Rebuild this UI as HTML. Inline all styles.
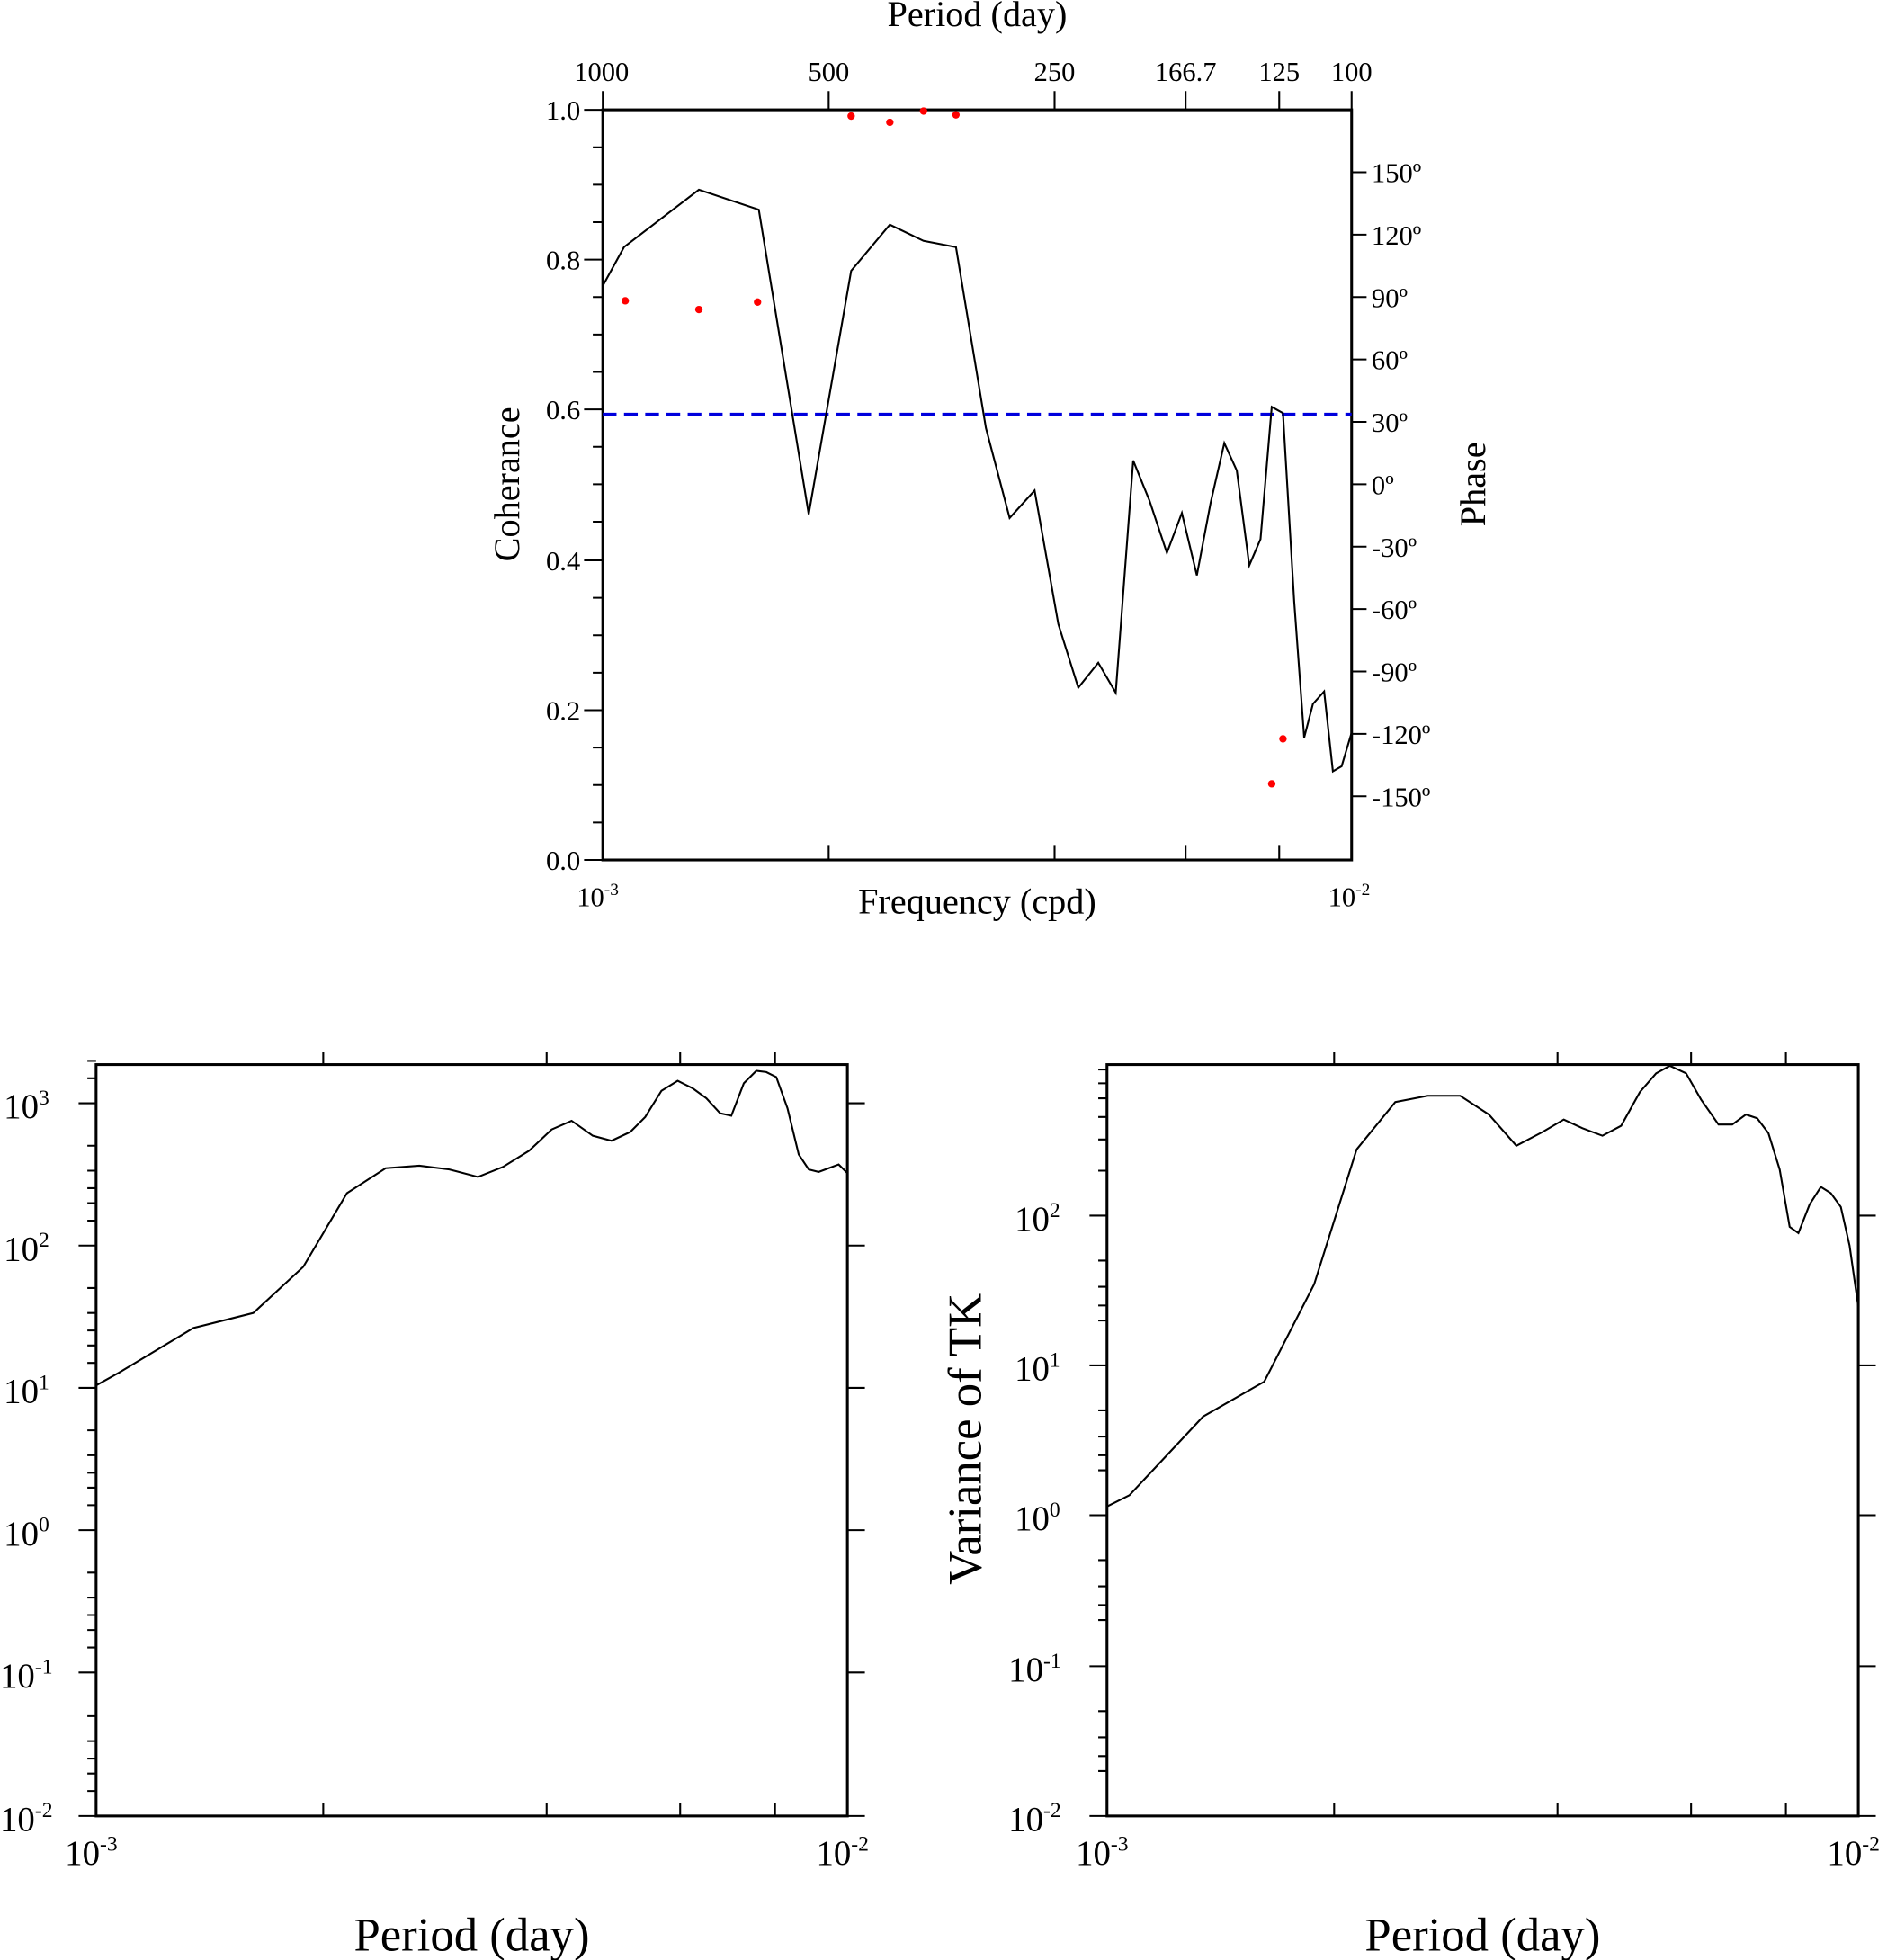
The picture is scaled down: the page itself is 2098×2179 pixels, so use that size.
<!DOCTYPE html>
<html><head><meta charset="utf-8"><style>html,body{margin:0;padding:0;background:#fff}svg{display:block}</style></head><body>
<svg width="2098" height="2179" viewBox="0 0 1512 1570.4" preserveAspectRatio="none" xmlns="http://www.w3.org/2000/svg" font-family="Liberation Serif, serif" fill="#000">
<g stroke="#000" stroke-width="2.2" fill="none">
<rect x="483" y="88" width="600" height="601"/>
<rect x="77" y="853" width="602" height="602"/>
<rect x="887" y="853" width="602" height="602"/>
</g>
<g stroke="#000" stroke-width="1.5">
<path d="M483,88h-15M483,208h-15M483,328h-15M483,449h-15M483,569h-15M483,689h-15"/>
<path d="M483,118h-8M483,148h-8M483,178h-8M483,238h-8M483,268h-8M483,298h-8M483,358h-8M483,388h-8M483,418h-8M483,479h-8M483,509h-8M483,539h-8M483,599h-8M483,629h-8M483,659h-8"/>
<path d="M1083,138h12M1083,188h12M1083,238h12M1083,288h12M1083,338h12M1083,388h12M1083,438h12M1083,488h12M1083,538h12M1083,588h12M1083,638h12"/>
<path d="M664,88v-15M845,88v-15M950,88v-15M1025,88v-15M1083,88v-15M483,88v-15"/>
<path d="M664,689v-12M845,689v-12M950,689v-12M1025,689v-12"/>
</g>
<g font-size="22" text-anchor="end">
<text x="465" y="96">1.0</text><text x="465" y="216">0.8</text><text x="465" y="336">0.6</text><text x="465" y="457">0.4</text><text x="465" y="577">0.2</text><text x="465" y="697">0.0</text>
</g>
<g font-size="22" text-anchor="start">
<text x="1099" y="146">150º</text><text x="1099" y="196">120º</text><text x="1099" y="246">90º</text><text x="1099" y="296">60º</text><text x="1099" y="346">30º</text><text x="1099" y="396">0º</text><text x="1099" y="446">-30º</text><text x="1099" y="496">-60º</text><text x="1099" y="546">-90º</text><text x="1099" y="596">-120º</text><text x="1099" y="646">-150º</text>
</g>
<g font-size="22" text-anchor="middle">
<text x="482" y="65">1000</text><text x="664" y="65">500</text><text x="845" y="65">250</text><text x="950" y="65">166.7</text><text x="1025" y="65">125</text><text x="1083" y="65">100</text>
<text x="479" y="726">10<tspan font-size="14" dy="-9">-3</tspan></text>
<text x="1081" y="726">10<tspan font-size="14" dy="-9">-2</tspan></text>
</g>
<text x="783" y="21" font-size="29" text-anchor="middle">Period (day)</text>
<text x="783" y="732" font-size="29" text-anchor="middle">Frequency (cpd)</text>
<text transform="translate(416,388) rotate(-90)" font-size="29" text-anchor="middle">Coherance</text>
<text transform="translate(1190,388) rotate(-90)" font-size="29" text-anchor="middle">Phase</text>
<line x1="483" y1="332" x2="1083" y2="332" stroke="#0000dd" stroke-width="2.5" stroke-dasharray="11,6"/>
<polyline fill="none" stroke="#000" stroke-width="1.5" points="483,229 500,198 560,152 608,168 648,412 682,217 713,180 740,193 766,198 790,343 809,415 829,393 848,500 864,551 880,531 894,555 908,369 921,401 935,443 947,411 959,461 970,403 981,355 991,377 1001,453 1010,432 1019,326 1028,331 1037,482 1045,591 1052,564 1061,554 1068,618 1075,614 1083,587"/>
<g fill="#f00">
<circle cx="501" cy="241" r="3"/><circle cx="560" cy="248" r="3"/><circle cx="607" cy="242" r="3"/><circle cx="682" cy="93" r="3"/><circle cx="713" cy="98" r="3"/><circle cx="740" cy="89" r="3"/><circle cx="766" cy="92" r="3"/><circle cx="1019" cy="628" r="3"/><circle cx="1028" cy="592" r="3"/>
</g>
<g stroke="#000" stroke-width="1.5">
<path d="M77,884h-14M77,998h-14M77,1112h-14M77,1226h-14M77,1340h-14M77,1455h-14"/>
<path d="M679,884h14M679,998h14M679,1112h14M679,1226h14M679,1340h14M679,1455h14"/>
<path d="M77,850h-7M77,864h-7M77,918h-7M77,938h-7M77,952h-7M77,964h-7M77,978h-7M77,1032h-7M77,1052h-7M77,1066h-7M77,1078h-7M77,1092h-7M77,1146h-7M77,1166h-7M77,1180h-7M77,1192h-7M77,1206h-7M77,1260h-7M77,1280h-7M77,1294h-7M77,1306h-7M77,1320h-7M77,1375h-7M77,1395h-7M77,1409h-7M77,1421h-7M77,1435h-7"/>
<path d="M259,853v-10M438,853v-10M545,853v-10M621,853v-10M259,1455v-10M438,1455v-10M545,1455v-10M621,1455v-10"/>
</g>
<polyline fill="none" stroke="#000" stroke-width="1.5" points="77,1110 95,1100 155,1064 203,1052 243,1015 278,956 309,936 336,934 360,937 383,943 403,935 424,922 442,905 458,898 475,910 490,914 505,907 517,895 530,874 543,866 555,872 566,880 577,892 586,894 596,868 606,858 614,859 622,863 631,888 640,925 648,937 656,939 664,936 672,933 679,940"/>
<g font-size="28">
<text x="3" y="896">10<tspan font-size="17" dy="-11">3</tspan></text>
<text x="3" y="1010">10<tspan font-size="17" dy="-11">2</tspan></text>
<text x="3" y="1124">10<tspan font-size="17" dy="-11">1</tspan></text>
<text x="3" y="1238">10<tspan font-size="17" dy="-11">0</tspan></text>
<text x="0" y="1352">10<tspan font-size="17" dy="-11">-1</tspan></text>
<text x="0" y="1467">10<tspan font-size="17" dy="-11">-2</tspan></text>
<text x="52" y="1494">10<tspan font-size="17" dy="-11">-3</tspan></text>
<text x="654" y="1494">10<tspan font-size="17" dy="-11">-2</tspan></text>
</g>
<text x="378" y="1563" font-size="38" text-anchor="middle">Period (day)</text>
<g stroke="#000" stroke-width="1.5">
<path d="M887,974h-14M887,1094h-14M887,1214h-14M887,1335h-14M887,1455h-14"/>
<path d="M1489,974h14M1489,1094h14M1489,1214h14M1489,1335h14M1489,1455h14"/>
<path d="M887,857h-7M887,868h-7M887,880h-7M887,895h-7M887,913h-7M887,938h-7M887,1010h-7M887,1031h-7M887,1046h-7M887,1058h-7M887,1130h-7M887,1151h-7M887,1166h-7M887,1178h-7M887,1250h-7M887,1271h-7M887,1286h-7M887,1298h-7M887,1371h-7M887,1392h-7M887,1407h-7M887,1419h-7"/>
<path d="M1069,853v-10M1248,853v-10M1355,853v-10M1431,853v-10M1069,1455v-10M1248,1455v-10M1355,1455v-10M1431,1455v-10"/>
</g>
<polyline fill="none" stroke="#000" stroke-width="1.5" points="887,1207 905,1198 964,1135 1013,1107 1053,1029 1087,921 1118,883 1144,878 1170,878 1193,893 1215,918 1236,907 1253,897 1268,904 1284,910 1299,902 1314,875 1327,860 1338,854 1351,860 1363,881 1377,901 1388,901 1399,893 1408,896 1417,908 1426,937 1434,983 1441,988 1450,965 1459,951 1467,956 1475,967 1482,998 1489,1047"/>
<g font-size="28">
<text x="813" y="986">10<tspan font-size="17" dy="-11">2</tspan></text>
<text x="813" y="1106">10<tspan font-size="17" dy="-11">1</tspan></text>
<text x="813" y="1226">10<tspan font-size="17" dy="-11">0</tspan></text>
<text x="808" y="1347">10<tspan font-size="17" dy="-11">-1</tspan></text>
<text x="808" y="1467">10<tspan font-size="17" dy="-11">-2</tspan></text>
<text x="862" y="1494">10<tspan font-size="17" dy="-11">-3</tspan></text>
<text x="1464" y="1494">10<tspan font-size="17" dy="-11">-2</tspan></text>
</g>
<text transform="translate(786,1153) rotate(-90)" font-size="38" text-anchor="middle">Variance of TK</text>
<text x="1188" y="1563" font-size="38" text-anchor="middle">Period (day)</text>
</svg>
</body></html>
